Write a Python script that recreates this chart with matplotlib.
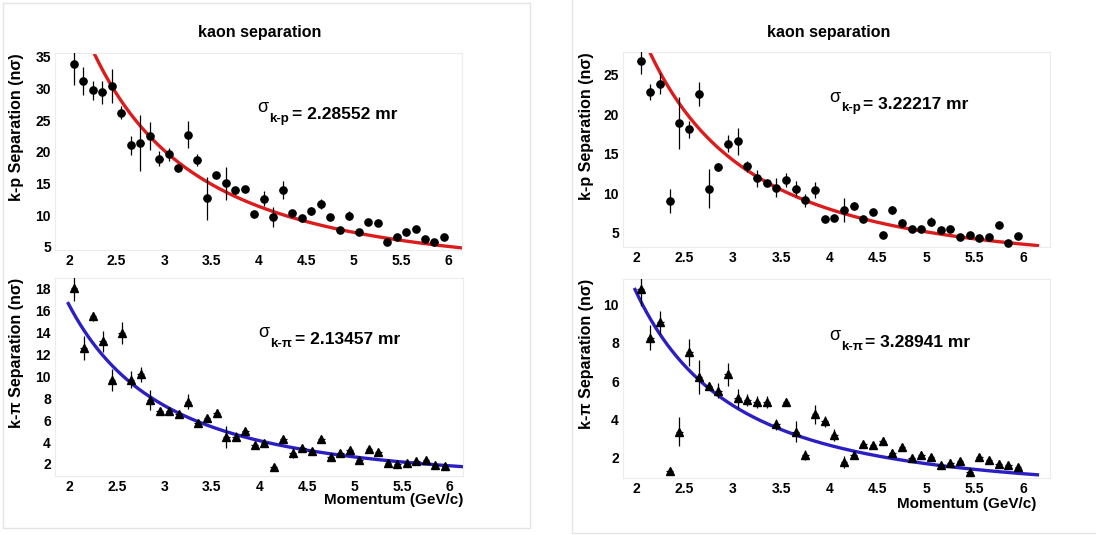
import numpy as np
import matplotlib
matplotlib.use('Agg')
import matplotlib.pyplot as plt
from matplotlib.patches import Rectangle

plt.rcParams['font.family'] = ['Liberation Sans', 'DejaVu Sans']

# momentum bins (GeV/c)
p = [2.05, 2.15, 2.25, 2.35, 2.45, 2.55, 2.65, 2.75, 2.85, 2.95,
     3.05, 3.15, 3.25, 3.35, 3.45, 3.55, 3.65, 3.75, 3.85, 3.95,
     4.05, 4.15, 4.25, 4.35, 4.45, 4.55, 4.65, 4.75, 4.85, 4.95,
     5.05, 5.15, 5.25, 5.35, 5.45, 5.55, 5.65, 5.75, 5.85, 5.95]

# left panel, k-p
kp_left = [33.9, 31.2, 29.7, 29.4, 30.4, 26.2, 21.0, 21.4, 22.5, 18.9,
           19.6, 17.5, 22.7, 18.7, 12.7, 16.3, 15.0, 13.9, 14.1, 10.2,
           12.6, 9.7, 14.0, 10.3, 9.5, 10.7, 11.7, 9.7, 7.6, 9.9,
           7.3, 8.9, 8.8, 5.7, 6.6, 7.4, 7.8, 6.2, 5.7, 6.6]
kp_left_err = [3.4, 2.2, 1.5, 1.8, 2.7, 1.0, 1.5, 4.4, 2.2, 1.2,
               1.0, 0.6, 2.1, 1.0, 3.4, 0.3, 2.6, 0.5, 0.4, 0.4,
               1.2, 1.6, 1.4, 0.5, 0.6, 0.6, 0.8, 0.3, 0.3, 0.7,
               0.3, 0.4, 0.5, 0.4, 0.4, 0.4, 0.3, 0.3, 0.3, 0.3]

# left panel, k-pi
kpi_left = [18.1, 12.6, 15.5, 13.2, 9.7, 14.0, 9.7, 10.2, 7.85, 6.8,
            6.8, 6.6, 7.7, 5.7, 6.2, 6.7, 4.5, 4.5, 5.0, 3.7,
            3.9, 1.75, 4.3, 3.0, 3.5, 3.2, 4.3, 2.6, 3.0, 3.3,
            2.35, 3.4, 3.1, 2.1, 2.0, 2.05, 2.25, 2.35, 1.95, 1.8]
kpi_left_err = [1.2, 1.1, 0.4, 1.0, 1.0, 1.0, 0.8, 0.7, 0.9, 0.3,
                0.2, 0.2, 0.7, 0.2, 0.2, 0.3, 1.0, 0.4, 0.2, 0.2,
                0.2, 0.2, 0.2, 0.5, 0.2, 0.2, 0.3, 0.2, 0.2, 0.2,
                0.2, 0.15, 0.15, 0.15, 0.15, 0.2, 0.2, 0.2, 0.15, 0.15]

# right panel, k-p
kp_right = [26.8, 22.8, 23.9, 9.0, 18.9, 18.1, 22.6, 10.6, 13.3, 16.3,
            16.6, 13.4, 11.9, 11.3, 10.7, 11.7, 10.6, 9.1, 10.4, 6.7,
            6.9, 7.9, 8.4, 6.8, 7.65, 4.7, 7.9, 6.3, 5.5, 5.5,
            6.4, 5.4, 5.5, 4.5, 4.7, 4.3, 4.5, 6.05, 3.75, 4.6]
kp_right_err = [1.7, 1.0, 1.3, 1.5, 3.3, 1.1, 1.5, 2.5, 0.5, 1.1,
                1.7, 0.7, 1.1, 0.4, 1.2, 0.9, 0.9, 0.8, 1.0, 0.3,
                0.3, 1.5, 0.5, 0.3, 0.3, 0.3, 0.5, 0.4, 0.3, 0.3,
                0.6, 0.3, 0.4, 0.3, 0.3, 0.3, 0.3, 0.3, 0.3, 0.3]

# right panel, k-pi
kpi_right = [10.8, 8.26, 9.06, 1.32, 3.36, 7.5, 6.2, 5.75, 5.5, 6.35,
             5.1, 5.0, 4.9, 4.9, 3.74, 4.9, 3.36, 2.14, 4.26, 3.9,
             3.2, 1.8, 2.14, 2.75, 2.7, 2.9, 2.26, 2.57, 2.0, 2.14,
             2.03, 1.62, 1.74, 1.83, 1.27, 2.03, 1.88, 1.7, 1.62, 1.53]
kpi_right_err = [0.9, 0.65, 0.6, 0.1, 0.75, 0.7, 0.9, 0.2, 0.4, 0.6,
                 0.5, 0.3, 0.3, 0.3, 0.3, 0.15, 0.55, 0.25, 0.5, 0.3,
                 0.3, 0.3, 0.2, 0.15, 0.15, 0.2, 0.2, 0.15, 0.2, 0.2,
                 0.15, 0.15, 0.2, 0.15, 0.15, 0.15, 0.15, 0.2, 0.15, 0.15]

# fit: separation = A / p^2
fit_A = {'kp_left': 182.0, 'kpi_left': 66.0, 'kp_right': 128.0, 'kpi_right': 42.6}
sigma_txt = {'kp_left': '2.28552', 'kpi_left': '2.13457',
             'kp_right': '3.22217', 'kpi_right': '3.28941'}

RED = '#dc1c1c'
BLUE = '#2b1fc4'

fig = plt.figure(figsize=(10.96, 5.35), dpi=100)
W, H = 1096, 535

# panel frames
fig.patches.append(Rectangle((3 / W, 1 - 528 / H), 527 / W, 525 / H, transform=fig.transFigure,
                             fill=False, edgecolor='#e4e4e4', lw=1))
fig.patches.append(Rectangle((572 / W, 1 - 533 / H), 540 / W, 540 / H, transform=fig.transFigure,
                             fill=False, edgecolor='#e4e4e4', lw=1))


def make_ax(box, xlim, ylim, yticks):
    x0, y0, x1, y1 = box
    ax = fig.add_axes([x0 / W, 1 - y1 / H, (x1 - x0) / W, (y1 - y0) / H])
    ax.set_xlim(xlim)
    ax.set_ylim(ylim)
    ax.set_xticks([2, 2.5, 3, 3.5, 4, 4.5, 5, 5.5, 6])
    ax.set_xticklabels(['2', '2.5', '3', '3.5', '4', '4.5', '5', '5.5', '6'])
    ax.set_yticks(yticks)
    for s in ax.spines.values():
        s.set_color('#ececec')
        s.set_linewidth(0.8)
    ax.tick_params(length=0, labelsize=10, pad=3)
    for lab in ax.get_xticklabels() + ax.get_yticklabels():
        lab.set_fontweight('bold')
    return ax


def draw(ax, y, err, A, color, marker, ms):
    ax.errorbar(p, y, yerr=err, xerr=0.035, fmt=marker, color='black', ms=ms,
                elinewidth=0.9, capsize=0, zorder=3)
    xx = np.linspace(1.99, 6.15, 300)
    ax.plot(xx, A / xx ** 2, color=color, lw=2.4, zorder=2)


def sigma_label(ax, x, y, sub, val):
    t = ax.text(x, y, 'σ', transform=ax.transAxes, fontsize=13, va='baseline')
    t2 = ax.annotate(sub, xy=(1, 0), xycoords=t, xytext=(0.5, -4), textcoords='offset points',
                     fontsize=9.5, fontweight='bold', va='baseline')
    ax.annotate('= ' + val + ' mr', xy=(1, 0), xycoords=t2, xytext=(2, 4),
                textcoords='offset points', fontsize=12.5, fontweight='bold', va='baseline')


# left top
ax1 = make_ax((55, 53, 462, 250), (1.85, 6.14), (4.5, 35.6), [5, 10, 15, 20, 25, 30, 35])
draw(ax1, kp_left, kp_left_err, fit_A['kp_left'], RED, 'o', 5.2)
sigma_label(ax1, 0.498, 0.70, 'k-p', sigma_txt['kp_left'])
ax1.set_ylabel('k-p Separation (nσ)', fontsize=11.5, fontweight='bold', labelpad=8, loc='top')

# left bottom
ax2 = make_ax((55, 278, 463, 476), (1.85, 6.14), (0.9, 19.0), [2, 4, 6, 8, 10, 12, 14, 16, 18])
draw(ax2, kpi_left, kpi_left_err, fit_A['kpi_left'], BLUE, '^', 5.5)
sigma_label(ax2, 0.498, 0.70, 'k-π', sigma_txt['kpi_left'])
ax2.set_ylabel('k-π Separation (nσ)', fontsize=11.5, fontweight='bold', labelpad=8, loc='top')

# right top
ax3 = make_ax((623, 52, 1050, 247), (1.866, 6.28), (3.2, 27.9), [5, 10, 15, 20, 25])
draw(ax3, kp_right, kp_right_err, fit_A['kp_right'], RED, 'o', 5.2)
sigma_label(ax3, 0.482, 0.744, 'k-p', sigma_txt['kp_right'])
ax3.set_ylabel('k-p Separation (nσ)', fontsize=11.5, fontweight='bold', labelpad=7, loc='top')

# right bottom
ax4 = make_ax((623, 279, 1050, 478), (1.866, 6.28), (0.96, 11.3), [2, 4, 6, 8, 10])
draw(ax4, kpi_right, kpi_right_err, fit_A['kpi_right'], BLUE, '^', 5.5)
sigma_label(ax4, 0.482, 0.693, 'k-π', sigma_txt['kpi_right'])
ax4.set_ylabel('k-π Separation (nσ)', fontsize=11.5, fontweight='bold', labelpad=7, loc='top')

# titles and x labels
fig.text(260 / W, 1 - 33 / H, 'kaon separation', ha='center', va='center',
         fontsize=11.5, fontweight='bold')
fig.text(829 / W, 1 - 33 / H, 'kaon separation', ha='center', va='center',
         fontsize=11.5, fontweight='bold')
fig.text(463 / W, 1 - 500 / H, 'Momentum (GeV/c)', ha='right', va='center',
         fontsize=11, fontweight='bold')
fig.text(1036 / W, 1 - 504 / H, 'Momentum (GeV/c)', ha='right', va='center',
         fontsize=11, fontweight='bold')

fig.savefig('out.png', dpi=100)
